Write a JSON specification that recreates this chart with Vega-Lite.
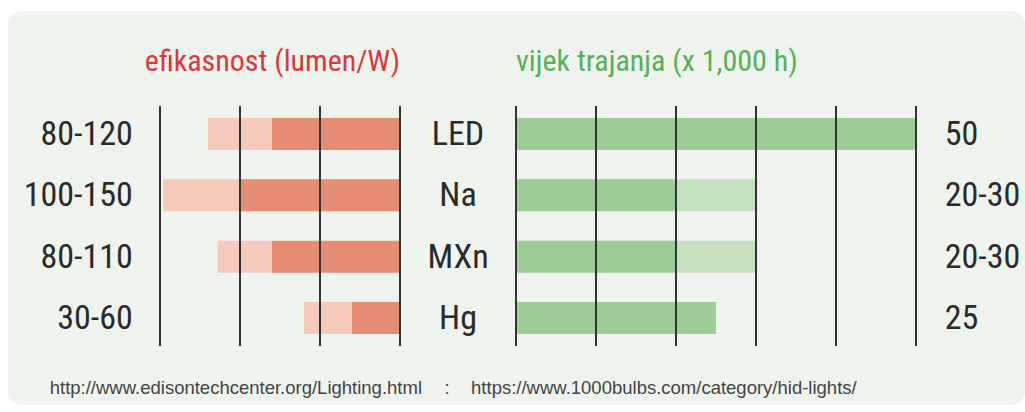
{
  "$schema": "https://vega.github.io/schema/vega-lite/v6.json",
  "width": 1017,
  "height": 394,
  "padding": {"left": 8, "top": 11, "right": 0, "bottom": 7},
  "autosize": {"type": "none"},
  "background": "white",
  "config": {
    "view": {"fill": "#eef3ee", "stroke": null, "cornerRadius": 14},
    "text": {"font": "Roboto Condensed, Liberation Sans Narrow, DejaVu Sans Condensed, Liberation Sans, sans-serif", "fontWeight": 400}
  },
  "data": {
    "values": [
      {"lamp": "LED", "eff_lo": 80, "eff_hi": 120, "eff_label": "80-120", "life_lo": 50, "life_hi": 50, "life_label": "50"},
      {"lamp": "Na", "eff_lo": 100, "eff_hi": 148, "eff_label": "100-150", "life_lo": 20, "life_hi": 30, "life_label": "20-30"},
      {"lamp": "MXn", "eff_lo": 80, "eff_hi": 114, "eff_label": "80-110", "life_lo": 20, "life_hi": 30, "life_label": "20-30"},
      {"lamp": "Hg", "eff_lo": 30, "eff_hi": 60, "eff_label": "30-60", "life_lo": 25, "life_hi": 25, "life_label": "25"}
    ]
  },
  "layer": [
    {
      "layer": [
        {
          "mark": {"type": "bar", "color": "#f5c9bc"},
          "encoding": {
            "x": {"field": "eff_lo", "type": "quantitative", "scale": {"domain": [-390.6, 245], "reverse": true, "zero": false, "nice": false}, "axis": null},
            "x2": {"field": "eff_hi"},
            "y": {"field": "lamp", "type": "nominal", "scale": {"domain": ["LED", "Na", "MXn", "Hg"], "range": [107, 323], "paddingInner": 0.48, "paddingOuter": 0}, "axis": null}
          }
        },
        {
          "mark": {"type": "bar", "color": "#e68c72"},
          "encoding": {
            "x": {"field": "eff_lo", "type": "quantitative", "scale": {"domain": [-390.6, 245], "reverse": true, "zero": false, "nice": false}, "axis": null},
            "x2": {"datum": 0},
            "y": {"field": "lamp", "type": "nominal", "axis": null}
          }
        },
        {
          "data": {"values": [{"g": 0}, {"g": 50}, {"g": 100}, {"g": 150}]},
          "mark": {"type": "rule", "color": "#333333", "strokeWidth": 2, "yOffset": -28, "y2Offset": 28},
          "encoding": {
            "x": {"field": "g", "type": "quantitative", "scale": {"domain": [-390.6, 245], "reverse": true, "zero": false, "nice": false}, "axis": null},
            "y": {"datum": "LED", "type": "nominal", "axis": null},
            "y2": {"datum": "Hg"}
          }
        },
        {
          "mark": {"type": "text", "align": "right", "baseline": "middle", "fontSize": 34, "color": "#2a2a2a", "dy": 1},
          "encoding": {
            "x": {"datum": 167, "type": "quantitative", "scale": {"domain": [-390.6, 245], "reverse": true, "zero": false, "nice": false}, "axis": null},
            "y": {"field": "lamp", "type": "nominal", "axis": null},
            "text": {"field": "eff_label"}
          }
        },
        {
          "mark": {"type": "text", "align": "center", "baseline": "middle", "fontSize": 34, "color": "#2a2a2a", "dy": 1},
          "encoding": {
            "x": {"datum": -36.25, "type": "quantitative", "scale": {"domain": [-390.6, 245], "reverse": true, "zero": false, "nice": false}, "axis": null},
            "y": {"field": "lamp", "type": "nominal", "axis": null},
            "text": {"field": "lamp"}
          }
        },
        {
          "data": {"values": [{"t": "efikasnost (lumen/W)"}]},
          "mark": {"type": "text", "align": "right", "baseline": "middle", "fontSize": 30, "color": "#d9383c", "dy": -72},
          "encoding": {
            "x": {"datum": 0, "type": "quantitative", "scale": {"domain": [-390.6, 245], "reverse": true, "zero": false, "nice": false}, "axis": null},
            "y": {"datum": "LED", "type": "nominal", "axis": null},
            "text": {"field": "t"}
          }
        },
        {
          "data": {"values": [
            {"t": "http://www.edisontechcenter.org/Lighting.html", "p": -13.75, "a": "right"},
            {"t": ":", "p": -29.4, "a": "center"},
            {"t": "https://www.1000bulbs.com/category/hid-lights/", "p": -44.4, "a": "left"}
          ]},
          "mark": {"type": "text", "baseline": "middle", "fontSize": 18.5, "font": "Liberation Sans", "fontWeight": 400, "color": "#444444", "dy": 70, "align": {"expr": "datum.a"}},
          "encoding": {
            "x": {"field": "p", "type": "quantitative", "scale": {"domain": [-390.6, 245], "reverse": true, "zero": false, "nice": false}, "axis": null},
            "y": {"datum": "Hg", "type": "nominal", "axis": null},
            "text": {"field": "t"}
          }
        }
      ]
    },
    {
      "layer": [
        {
          "mark": {"type": "bar", "color": "#c6e1be"},
          "encoding": {
            "x": {"field": "life_lo", "type": "quantitative", "scale": {"domain": [-63.5, 63.625], "zero": false, "nice": false}, "axis": null},
            "x2": {"field": "life_hi"},
            "y": {"field": "lamp", "type": "nominal", "axis": null}
          }
        },
        {
          "mark": {"type": "bar", "color": "#9dcc96"},
          "encoding": {
            "x": {"field": "life_lo", "type": "quantitative", "scale": {"domain": [-63.5, 63.625], "zero": false, "nice": false}, "axis": null},
            "x2": {"datum": 0},
            "y": {"field": "lamp", "type": "nominal", "axis": null}
          }
        },
        {
          "data": {"values": [{"g": 0}, {"g": 10}, {"g": 20}, {"g": 30}, {"g": 40}, {"g": 50}]},
          "mark": {"type": "rule", "color": "#333333", "strokeWidth": 2, "yOffset": -28, "y2Offset": 28},
          "encoding": {
            "x": {"field": "g", "type": "quantitative", "scale": {"domain": [-63.5, 63.625], "zero": false, "nice": false}, "axis": null},
            "y": {"datum": "LED", "type": "nominal", "axis": null},
            "y2": {"datum": "Hg"}
          }
        },
        {
          "mark": {"type": "text", "align": "left", "baseline": "middle", "fontSize": 34, "color": "#2a2a2a", "dy": 1},
          "encoding": {
            "x": {"datum": 53.6, "type": "quantitative", "scale": {"domain": [-63.5, 63.625], "zero": false, "nice": false}, "axis": null},
            "y": {"field": "lamp", "type": "nominal", "axis": null},
            "text": {"field": "life_label"}
          }
        },
        {
          "data": {"values": [{"t": "vijek trajanja (x 1,000 h)"}]},
          "mark": {"type": "text", "align": "left", "baseline": "middle", "fontSize": 30, "color": "#55b258", "dy": -72},
          "encoding": {
            "x": {"datum": 0, "type": "quantitative", "scale": {"domain": [-63.5, 63.625], "zero": false, "nice": false}, "axis": null},
            "y": {"datum": "LED", "type": "nominal", "axis": null},
            "text": {"field": "t"}
          }
        }
      ]
    }
  ],
  "resolve": {"scale": {"x": "independent"}}
}
